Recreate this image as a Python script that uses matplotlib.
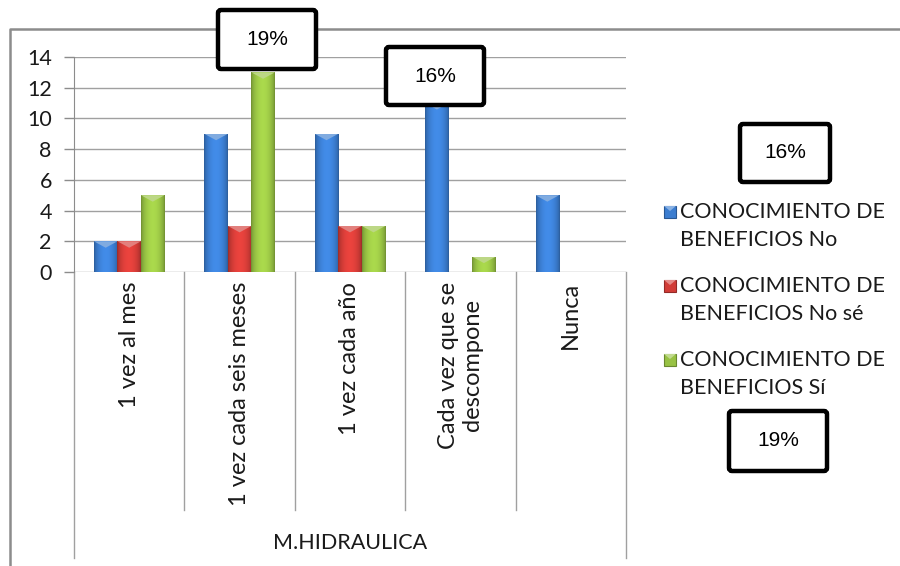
import matplotlib

matplotlib.use("Agg")
import matplotlib.pyplot as plt
import numpy as np
from matplotlib.colors import to_rgb
from matplotlib.lines import Line2D
from matplotlib.patches import FancyBboxPatch, Polygon, Rectangle
from matplotlib.transforms import IdentityTransform, blended_transform_factory

categories = [
    "1 vez al mes",
    "1 vez cada seis meses",
    "1 vez cada año",
    "Cada vez que se\ndescompone",
    "Nunca",
]
group_label = "M.HIDRAULICA"
series_names = [
    "CONOCIMIENTO DE\nBENEFICIOS No",
    "CONOCIMIENTO DE\nBENEFICIOS No sé",
    "CONOCIMIENTO DE\nBENEFICIOS Sí",
]
vals_no = [2, 9, 9, 11, 5]
vals_nose = [2, 3, 3, 0, 0]
vals_si = [5, 13, 3, 1, 0]
y_ticks = [0, 2, 4, 6, 8, 10, 12, 14]
box_labels = ["19%", "16%", "16%", "19%"]

colors = ["#3b7dd0", "#d23c37", "#98c244"]
W, H = 900, 566
FONT = "Lato"
FS = 15.5


def fx(px):
    return px / W


def fy(py):
    return 1 - py / H


def shade(c, f):
    r = np.array(to_rgb(c))
    if f < 1:
        return tuple(r * f)
    return tuple(r + (1 - r) * (f - 1))


def gradient_bar(ax, patch, color):
    x0, y0 = patch.get_x(), patch.get_y()
    w, h = patch.get_width(), patch.get_height()
    if h <= 0:
        return
    t = np.linspace(0, 1, 60)
    prof = 0.72 + 0.4 * np.sin(np.pi * t) ** 0.6
    base = np.array(to_rgb(color))
    img = np.clip(base[None, :] * prof[:, None], 0, 1)[None, :, :]
    im = ax.imshow(img, extent=[x0, x0 + w, y0, y0 + h], aspect="auto",
                   zorder=3, interpolation="bilinear")
    im.set_clip_path(patch)
    cap = min(0.42, h * 0.5)
    tri = Polygon([(x0, y0 + h), (x0 + w, y0 + h), (x0 + w / 2, y0 + h - cap)],
                  closed=True, facecolor=shade(color, 1.35), edgecolor="none",
                  zorder=4)
    ax.add_patch(tri)
    tri.set_clip_path(patch)


fig = plt.figure(figsize=(9, 5.66), dpi=100)
ax = fig.add_axes([fx(74), fy(272), fx(626) - fx(74), fy(57) - fy(272)])

x = np.arange(len(categories))
bw = 0.213
for k, (vals, col) in enumerate(zip([vals_no, vals_nose, vals_si], colors)):
    bars = ax.bar(x + (k - 1) * bw, vals, bw, color=col, zorder=2,
                  edgecolor="none")
    for p in bars.patches:
        gradient_bar(ax, p, col)

ax.set_xlim(-0.5, len(categories) - 0.5)
ax.set_ylim(0, 14)
ax.set_yticks(y_ticks)
ax.yaxis.grid(True, color="#a0a0a0", lw=1.0, zorder=0)
ax.set_axisbelow(True)
for s in ["top", "right", "bottom"]:
    ax.spines[s].set_visible(False)
ax.spines["left"].set_color("#8c8c8c")
ax.tick_params(axis="y", length=7, color="#8c8c8c", width=1, pad=9,
               labelsize=FS)
ax.set_xticks(x)
ax.set_xticklabels(categories, rotation=90, va="top", ha="center",
                   multialignment="center")
ax.tick_params(axis="x", length=0, pad=7, labelsize=17)
for lab in ax.get_xticklabels() + ax.get_yticklabels():
    lab.set_fontfamily(FONT)
    lab.set_color("#1a1a1a")

# category dividers below the axis
trans = blended_transform_factory(ax.transData, ax.transAxes)
edges = np.arange(len(categories) + 1) - 0.5
for i, b in enumerate(edges):
    low = -1.33 if i in (0, len(edges) - 1) else -1.107
    ax.add_line(Line2D([b, b], [0, low], transform=trans, color="#a0a0a0",
                       lw=1.0, clip_on=False))
ax.text(np.mean(x), -1.26, group_label, transform=trans, ha="center",
        va="center", fontsize=FS, family=FONT, color="#1a1a1a")

# outer chart frame
fig.add_artist(Line2D([fx(10), fx(10), 1.0], [0, fy(29), fy(29)],
                      transform=fig.transFigure, color="#8c8c8c", lw=1.8))

# legend
for i, (name, col) in enumerate(zip(series_names, colors)):
    ytop = 212 + 74 * i
    fig.add_artist(Rectangle((664, H - ytop - 6), 12, 12,
                             transform=IdentityTransform(), facecolor=col,
                             edgecolor=shade(col, 0.7), lw=0.8))
    fig.add_artist(Polygon([(664, H - ytop + 6), (676, H - ytop + 6),
                            (670, H - ytop + 1)], closed=True,
                           transform=IdentityTransform(),
                           facecolor=shade(col, 1.4), edgecolor="none"))
    for j, line in enumerate(name.split("\n")):
        fig.text(fx(680), fy(ytop + 28 * j), line, va="center", ha="left",
                 fontsize=FS, family=FONT, color="#1a1a1a")

# percentage boxes (x0, y0, x1, y1 in pixels from top-left)
boxes = [(218, 10, 316, 69), (386, 47, 484, 105), (740, 124, 830, 182),
         (729, 411, 827, 471)]
for (x0, y0, x1, y1), txt in zip(boxes, box_labels):
    fig.add_artist(FancyBboxPatch((x0, H - y1), x1 - x0, y1 - y0,
                                  boxstyle="round,pad=0,rounding_size=3",
                                  transform=IdentityTransform(),
                                  facecolor="white", edgecolor="black",
                                  lw=3.2, zorder=10))
    fig.text(fx((x0 + x1) / 2), fy((y0 + y1) / 2), txt, ha="center",
             va="center", fontsize=15, family="Liberation Sans", zorder=11)

fig.savefig("out.png", dpi=100)
